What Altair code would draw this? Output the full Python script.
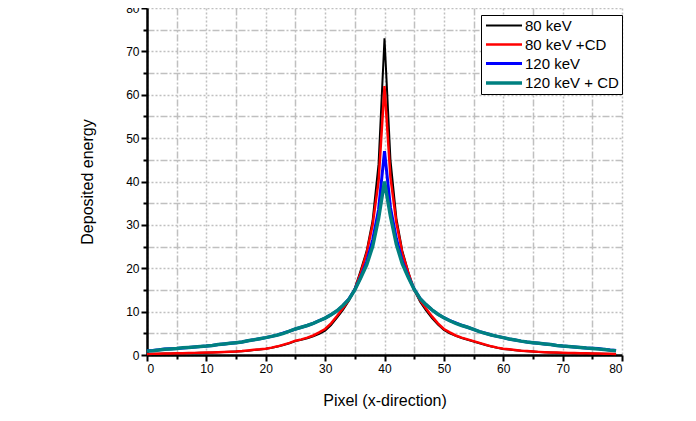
import altair as alt
import pandas as pd

pixels = list(range(80))

e80 = [0.20, 0.25, 0.30, 0.33, 0.36, 0.39, 0.42, 0.45, 0.48, 0.51,
       0.54, 0.58, 0.63, 0.68, 0.73, 0.79, 0.88, 1.00, 1.15, 1.28,
       1.42, 1.65, 1.95, 2.30, 2.70, 3.20, 3.50, 3.85, 4.30, 4.90,
       5.60, 6.90, 8.60, 10.4, 12.5, 15.3, 19.5, 24.0, 31.0, 44.0,
       73.0, 45.0, 31.5, 24.0, 19.2, 15.0, 12.3, 10.3, 8.50, 7.00,
       5.80, 5.00, 4.40, 3.90, 3.50, 3.10, 2.70, 2.30, 1.95, 1.65,
       1.40, 1.25, 1.10, 0.98, 0.88, 0.78, 0.70, 0.64, 0.58, 0.53,
       0.48, 0.45, 0.42, 0.39, 0.36, 0.33, 0.30, 0.27, 0.24, 0.21]

e80cd = [0.23, 0.27, 0.31, 0.34, 0.37, 0.40, 0.43, 0.46, 0.49, 0.52,
         0.55, 0.60, 0.65, 0.70, 0.75, 0.80, 0.90, 1.05, 1.20, 1.30,
         1.45, 1.70, 2.00, 2.40, 2.80, 3.30, 3.60, 4.00, 4.50, 5.20,
         6.00, 7.30, 9.00, 10.8, 12.7, 15.2, 19.0, 23.5, 30.0, 40.0,
         62.0, 41.0, 30.5, 23.5, 19.0, 15.0, 12.6, 10.7, 8.90, 7.30,
         6.00, 5.20, 4.50, 4.00, 3.60, 3.20, 2.80, 2.40, 2.00, 1.70,
         1.45, 1.30, 1.15, 1.00, 0.90, 0.80, 0.72, 0.66, 0.60, 0.55,
         0.50, 0.47, 0.44, 0.41, 0.38, 0.35, 0.32, 0.29, 0.26, 0.23]

e120 = [1.00, 1.05, 1.20, 1.40, 1.45, 1.50, 1.60, 1.75, 1.85, 1.95,
        2.05, 2.20, 2.40, 2.55, 2.70, 2.85, 3.00, 3.30, 3.50, 3.75,
        4.00, 4.30, 4.65, 5.10, 5.50, 6.00, 6.40, 6.80, 7.30, 7.90,
        8.50, 9.30, 10.2, 11.4, 12.9, 15.1, 18.0, 21.5, 26.5, 33.5,
        47.0, 34.0, 26.8, 21.6, 18.1, 15.2, 13.0, 11.6, 10.4, 9.40,
        8.60, 7.95, 7.40, 6.85, 6.40, 5.90, 5.40, 5.00, 4.60, 4.30,
        4.00, 3.70, 3.45, 3.20, 3.00, 2.85, 2.70, 2.55, 2.40, 2.20,
        2.05, 1.95, 1.85, 1.75, 1.60, 1.55, 1.50, 1.30, 1.15, 1.05]

e120cd = [0.90, 1.00, 1.15, 1.30, 1.40, 1.50, 1.65, 1.75, 1.85, 1.95,
          2.05, 2.20, 2.40, 2.55, 2.70, 2.85, 3.00, 3.30, 3.50, 3.75,
          4.00, 4.30, 4.60, 5.00, 5.50, 6.00, 6.40, 6.80, 7.30, 7.90,
          8.50, 9.30, 10.2, 11.4, 12.8, 15.0, 17.8, 20.8, 25.0, 31.5,
          40.0, 32.0, 25.5, 21.0, 17.9, 15.1, 13.0, 11.6, 10.4, 9.40,
          8.60, 7.90, 7.30, 6.80, 6.40, 5.90, 5.40, 5.00, 4.60, 4.30,
          4.00, 3.70, 3.45, 3.20, 3.00, 2.85, 2.70, 2.55, 2.40, 2.20,
          2.05, 1.95, 1.85, 1.75, 1.60, 1.50, 1.40, 1.25, 1.10, 1.00]

series_names = ["80 keV", "80 keV +CD", "120 keV", "120 keV + CD"]
series_values = [e80, e80cd, e120, e120cd]
series_colors = ["#000000", "#ff0000", "#0000ff", "#008080"]
series_widths = [2.0, 3.5, 3.0, 3.0]

rows = []
for name, vals in zip(series_names, series_values):
    for p, v in zip(pixels, vals):
        rows.append({"pixel": p, "energy": v, "series": name})
df = pd.DataFrame(rows)

tick_vals = list(range(0, 85, 5))
is_major = "datum.value % 10 === 0"

def make_axis(title, title_pad):
    return alt.Axis(
        title=title,
        values=tick_vals,
        labelExpr=f"{is_major} ? datum.label : ''",
        tickSize={"condition": {"test": is_major, "value": 6}, "value": 4},
        gridDash={"condition": {"test": is_major, "value": [2, 2]}, "value": [7, 2, 2, 2]},
        titlePadding=title_pad,
    )

color_scale = alt.Scale(domain=series_names, range=series_colors)
width_scale = alt.Scale(domain=series_names, range=series_widths)

legend = alt.Legend(
    title=None,
    orient="none",
    legendX=334,
    legendY=7,
    symbolType="M-1,0H5",
    symbolSize=144,
    labelFontSize=15,
    labelFont="Liberation Sans",
    labelColor="#000000",
    strokeColor="#000000",
    fillColor="#ffffff",
    padding=3,
    rowPadding=3,
    labelOffset=25,
    cornerRadius=0,
)

layers = []
for name in series_names:
    layers.append(
        alt.Chart(df)
        .transform_filter(alt.datum.series == name)
        .mark_line()
        .encode(
            x=alt.X("pixel:Q", scale=alt.Scale(domain=[0, 80], nice=False),
                    axis=make_axis("Pixel (x-direction)", 18)),
            y=alt.Y("energy:Q", scale=alt.Scale(domain=[0, 80], nice=False),
                    axis=make_axis("Deposited energy", 30)),
            color=alt.Color("series:N", scale=color_scale, legend=legend),
            strokeWidth=alt.StrokeWidth("series:N", scale=width_scale, legend=legend),
        )
    )

chart = (
    alt.layer(*layers)
    .properties(
        width=475,
        height=347,
        autosize=alt.AutoSizeParams(type="none"),
        padding={"left": 139, "top": 0, "right": 66, "bottom": 56},
    )
    .configure_view(stroke=None)
    .configure_axis(
        domainColor="#000000",
        domainWidth=2.5,
        tickColor="#000000",
        tickWidth=2,
        gridColor="#c0c0c0",
        gridWidth=1.5,
        labelFont="Liberation Sans",
        labelFontSize=12,
        labelColor="#000000",
        labelPadding=2,
        titleFont="Liberation Sans",
        titleFontSize=16,
        titleFontWeight="normal",
        titleColor="#000000",
    )
)

chart.save("out.html", embed_options={"renderer": "svg", "actions": False})
